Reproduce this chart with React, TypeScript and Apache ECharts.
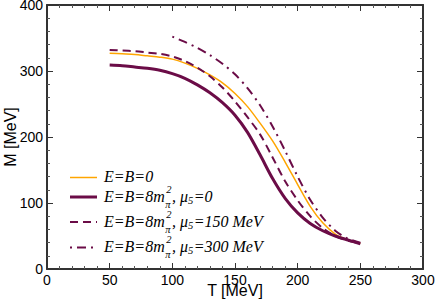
import React, { useEffect, useRef } from "react";
import * as echarts from "echarts";

const T_MAIN = [50, 60, 70, 80, 90, 100, 110, 120, 130, 140, 150, 160, 170, 180, 190, 200, 210, 220, 230, 240, 250];
const M_ZERO = [327, 326, 325, 323, 321, 318, 312, 304, 294, 282, 266, 246, 221, 194, 162, 128, 95, 70, 53, 44, 39];
const M_MU0 = [309, 308, 306, 304, 301, 296, 289, 279, 267, 252, 233, 207, 173, 137, 107, 85, 69, 58, 50, 44, 38];
const M_MU150 = [332, 331, 330, 328, 326, 322, 315, 305, 292, 275, 254, 230, 204, 169, 133, 104, 80, 62, 50, 43, 39];
const T_DD = [100, 110, 120, 130, 140, 150, 160, 170, 180, 190, 200, 210, 220, 230, 240, 250];
const M_MU300 = [352, 344, 335, 324, 311, 295, 274, 248, 216, 179, 140, 105, 78, 58, 46, 40];

const X_TICKS = [0, 50, 100, 150, 200, 250, 300];
const Y_TICKS = [0, 100, 200, 300, 400];
const X_MAX = 300;
const Y_MAX = 400;

const LEGEND_TAILS = ["", "=0", "=150 MeV", "=300 MeV"];

const MAROON = "#6b0c47";
const ORANGE = "#ffa500";
const AXIS = "#333333";
const CLEAR = "rgba(0,0,0,0)";

const MAIN_FONT = "italic 16px 'Liberation Serif'";
const SMALL_FONT = "italic 10.5px 'Liberation Serif'";

function measure(text: string, font: string): number {
  const c = document.createElement("canvas").getContext("2d");
  if (!c) return text.length * 7;
  c.font = font;
  return c.measureText(text).width;
}

function legendRow(lineY: number, tail: string, simple: boolean): any[] {
  const x0 = 104;
  const els: any[] = [];
  const txt = (text: string, x: number, y: number, font: string) => ({
    type: "text",
    x,
    y,
    silent: true,
    style: { text, font, fill: "#000", align: "left", verticalAlign: "middle" },
  });
  if (simple) {
    els.push(txt("E=B=0", x0, lineY - 1, MAIN_FONT));
    return els;
  }
  const a = "E=B=8m";
  let x = x0;
  els.push(txt(a, x, lineY - 1, MAIN_FONT));
  x += measure(a, MAIN_FONT) + 0.5;
  els.push(txt("π", x, lineY + 7, SMALL_FONT));
  els.push(txt("2", x + 1, lineY - 8, SMALL_FONT));
  x += Math.max(measure("π", SMALL_FONT), measure("2", SMALL_FONT) + 1) + 0.5;
  const b = ", μ";
  els.push(txt(b, x, lineY - 1, MAIN_FONT));
  x += measure(b, MAIN_FONT);
  els.push(txt("5", x, lineY + 3, SMALL_FONT));
  x += measure("5", SMALL_FONT) + 0.5;
  els.push(txt(tail, x, lineY - 1, MAIN_FONT));
  return els;
}

const mkLine = () => ({ show: true, onZero: false, lineStyle: { color: AXIS, width: 2 } });
const mkTick = () => ({ show: true, inside: true, length: 6, lineStyle: { color: AXIS, width: 1 } });
const mkMinor = () => ({ show: true, splitNumber: 5, length: 3, lineStyle: { color: "#555", width: 1 } });

export default function App() {
  const ref = useRef<HTMLDivElement>(null);
  useEffect(() => {
    if (!ref.current) return;
    const chart = echarts.init(ref.current, undefined, { renderer: "svg" });
    const pair = (xs: number[], ys: number[]) => xs.map((x, i) => [x, ys[i]]);
    const legendLines = [
      { y: 177.5, color: ORANGE, width: 1.5, dash: null as any },
      { y: 197, color: MAROON, width: 3, dash: null as any },
      { y: 222, color: MAROON, width: 2, dash: [8, 5] },
      { y: 247.5, color: MAROON, width: 2, dash: [2, 5, 9, 5] },
    ];
    const graphics: any[] = [];
    legendLines.forEach((l, i) => {
      graphics.push({
        type: "line",
        silent: true,
        shape: { x1: 70, y1: l.y, x2: 97, y2: l.y },
        style: { stroke: l.color, lineWidth: l.width, lineDash: l.dash || undefined },
      });
      graphics.push(...legendRow(l.y, LEGEND_TAILS[i], i === 0));
    });
    // split lines are only visible at the maximum value: they close the frame on top and right
    const xSplitColors = X_TICKS.map((v) => (v === X_MAX ? AXIS : CLEAR));
    const ySplitColors = Y_TICKS.map((v) => (v === Y_MAX ? AXIS : CLEAR));
    chart.setOption({
      animation: false,
      grid: {
        left: 47,
        right: 13,
        top: 5,
        bottom: 36,
        outerBoundsMode: "none",
      },
      xAxis: [
        {
          type: "value",
          min: 0,
          max: X_MAX,
          interval: 50,
          position: "bottom",
          axisLine: mkLine(),
          axisTick: mkTick(),
          minorTick: mkMinor(),
          splitLine: { show: true, showMinLine: true, showMaxLine: true, lineStyle: { color: xSplitColors, width: 2 } },
          axisLabel: {
            color: "#000",
            fontSize: 14,
            fontFamily: "Liberation Sans",
            margin: 4,
            formatter: (v: number) => (X_TICKS.includes(v) ? String(v) : ""),
          },
          name: "T [MeV]",
          nameLocation: "middle",
          nameGap: 13,
          nameMoveOverlap: false,
          nameTextStyle: { color: "#000", fontSize: 16, fontFamily: "Liberation Sans", verticalAlign: "top" },
        },
        {
          type: "value",
          min: 0,
          max: X_MAX,
          interval: 50,
          position: "top",
          axisLine: mkLine(),
          axisTick: mkTick(),
          minorTick: mkMinor(),
          splitLine: { show: false },
          axisLabel: { show: false },
        },
      ],
      yAxis: [
        {
          type: "value",
          min: 0,
          max: Y_MAX,
          interval: 100,
          position: "left",
          axisLine: mkLine(),
          axisTick: mkTick(),
          minorTick: mkMinor(),
          splitLine: { show: true, showMinLine: true, showMaxLine: true, lineStyle: { color: ySplitColors, width: 2 } },
          axisLabel: {
            color: "#000",
            fontSize: 14,
            fontFamily: "Liberation Sans",
            margin: 4,
            formatter: (v: number) => (Y_TICKS.includes(v) ? String(v) : ""),
          },
          name: "M [MeV]",
          nameLocation: "middle",
          nameGap: 29,
          nameMoveOverlap: false,
          nameTextStyle: { color: "#000", fontSize: 16, fontFamily: "Liberation Sans" },
        },
        {
          type: "value",
          min: 0,
          max: Y_MAX,
          interval: 100,
          position: "right",
          axisLine: mkLine(),
          axisTick: mkTick(),
          minorTick: mkMinor(),
          splitLine: { show: false },
          axisLabel: { show: false },
        },
      ],
      graphic: graphics,
      series: [
        {
          name: "E=B=0",
          type: "line",
          data: pair(T_MAIN, M_ZERO),
          smooth: 0.3,
          symbol: "none",
          color: ORANGE,
          lineStyle: { color: ORANGE, width: 1.5 },
        },
        {
          name: "mu0",
          type: "line",
          data: pair(T_MAIN, M_MU0),
          smooth: 0.3,
          symbol: "none",
          color: MAROON,
          lineStyle: { color: MAROON, width: 3 },
        },
        {
          name: "mu150",
          type: "line",
          data: pair(T_MAIN, M_MU150),
          smooth: 0.3,
          symbol: "none",
          color: MAROON,
          lineStyle: { color: MAROON, width: 2, type: [8, 5] },
        },
        {
          name: "mu300",
          type: "line",
          data: pair(T_DD, M_MU300),
          smooth: 0.3,
          symbol: "none",
          color: MAROON,
          lineStyle: { color: MAROON, width: 2, type: [2, 5, 9, 5] },
        },
      ],
    });
    return () => chart.dispose();
  }, []);
  return <div ref={ref} style={{ width: 436, height: 305, position: "absolute", left: 0, top: 0 }} />;
}
